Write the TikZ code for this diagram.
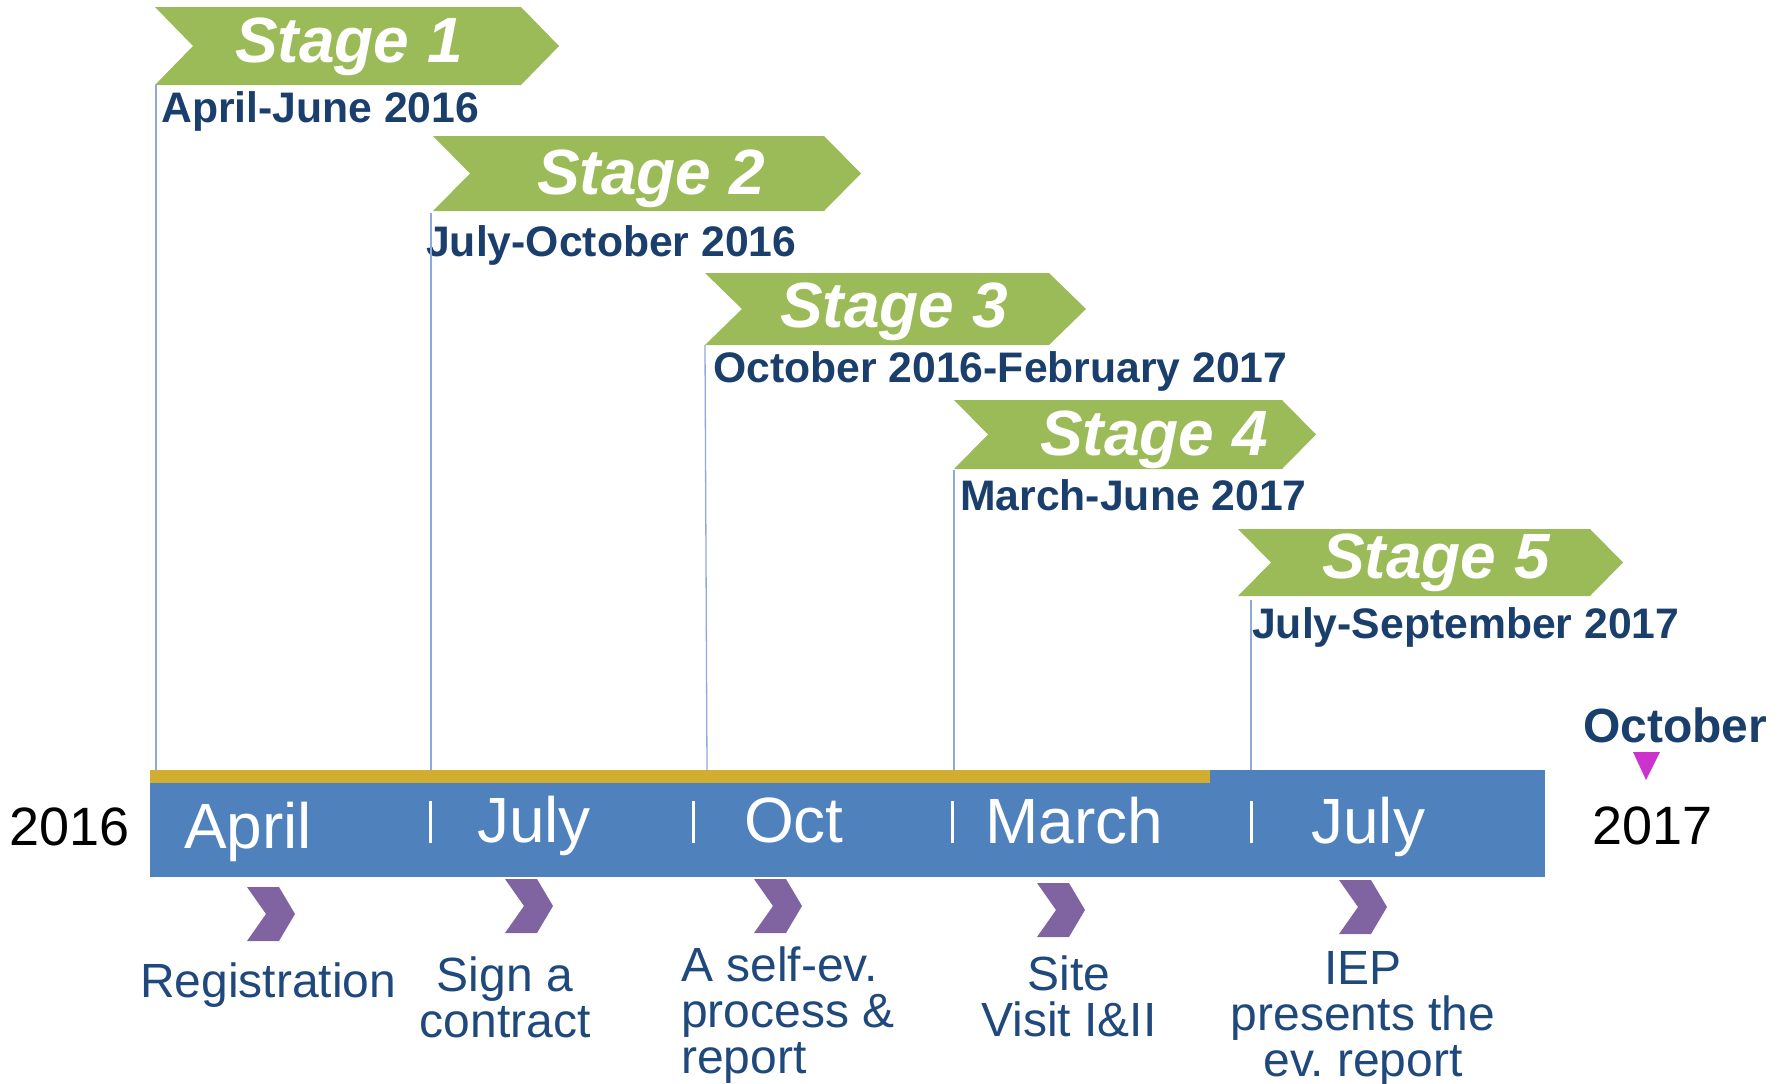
\documentclass[tikz,border=0pt]{standalone}
\usepackage{fontspec}
\setmainfont{Liberation Sans}
\frenchspacing
\definecolor{stagegreen}{HTML}{9BBB59}
\definecolor{barblue}{HTML}{4F81BD}
\definecolor{bargold}{HTML}{D1AE2F}
\definecolor{actpurple}{HTML}{8064A2}
\definecolor{datecol}{HTML}{1B3F6C}
\definecolor{labelcol}{HTML}{1F497D}
\definecolor{linecol}{HTML}{8EAADB}
\definecolor{markmag}{HTML}{CC33CC}
\newcommand{\stagechev}[6]{% name, x0, x1, ytop, ybot, depth
  \fill[stagegreen] (#2,#4) -- (#3,#4) -- ({#3+#6},{(#4+#5)/2}) -- (#3,#5) -- (#2,#5) -- ({#2+#6},{(#4+#5)/2}) -- cycle;
  \coordinate (#1) at (#2,#5);}
\newcommand{\actchev}[2]{% x0, ytop
  \fill[actpurple] (#1,#2) -- ({#1+32},#2) -- ({#1+48},{#2+27}) -- ({#1+32},{#2+54}) -- (#1,{#2+54}) -- ({#1+19},{#2+27}) -- cycle;}
\begin{document}
\begin{tikzpicture}[x=1pt,y=-1pt,
  stagetxt/.style={inner sep=0pt, text=white, font=\fontsize{64}{70}\selectfont\bfseries\itshape},
  datetxt/.style={inner sep=0pt, text=datecol, font=\fontsize{42.7}{46}\selectfont\bfseries},
  monthtxt/.style={inner sep=0pt, text=white, font=\fontsize{64}{70}\selectfont},
  yeartxt/.style={inner sep=0pt, text=black, font=\fontsize{54}{58}\selectfont},
  acttxt/.style={inner sep=0pt, text=labelcol, font=\fontsize{48}{46}\selectfont},
  vline/.style={draw=linecol, line width=1.3pt},
  tickmark/.style={draw=white, line width=3pt}]
\useasboundingbox (0,0) rectangle (1781,1084);

% stage chevrons
\stagechev{c1}{155}{521}{7}{85}{38}
\stagechev{c2}{433}{824}{136}{211}{37}
\stagechev{c3}{705}{1049}{273}{345}{37}
\stagechev{c4}{954}{1282}{400}{469}{34}
\stagechev{c5}{1238}{1590}{529}{596}{33}

\node[stagetxt, anchor=base] (s1) at (349,62) {Stage 1};
\node[stagetxt, anchor=base] (s2) at (651,194) {Stage 2};
\node[stagetxt, anchor=base] (s3) at (894,327) {Stage 3};
\node[stagetxt, anchor=base] (s4) at (1154,455) {Stage 4};
\node[stagetxt, anchor=base] (s5) at (1436,578) {Stage 5};

\node[datetxt, anchor=base west] (d1) at (161,122) {April-June 2016};
\node[datetxt, anchor=base west] (d2) at (426,256) {July-October 2016};
\node[datetxt, anchor=base west] (d3) at (713,382) {October 2016-February 2017};
\node[datetxt, anchor=base west] (d4) at (960,510) {March-June 2017};
\node[datetxt, anchor=base west] (d5) at (1252,638) {July-September 2017};

% bar
\fill[barblue] (150,770) rectangle (1545,877);
\fill[bargold] (150,770) rectangle (1210,783);

% stage lines to bar
\coordinate (t1) at (156,85);   \coordinate (b1) at (156,770);
\coordinate (t2) at (431,213);  \coordinate (b2) at (431,770);
\coordinate (t3) at (705,345);  \coordinate (b3) at (707,770);
\coordinate (t4) at (954,470);  \coordinate (b4) at (954,770);
\coordinate (t5) at (1251,600); \coordinate (b5) at (1251,770);
\draw[vline] (t1) -- (b1);
\draw[vline] (t2) -- (b2);
\draw[vline] (t3) -- (b3);
\draw[vline] (t4) -- (b4);
\draw[vline] (t5) -- (b5);

% ticks in bar
\draw[tickmark] (430,801) -- (430,843);
\draw[tickmark] (693,801) -- (693,843);
\draw[tickmark] (952,801) -- (952,843);
\draw[tickmark] (1251,801) -- (1251,843);

\node[monthtxt, anchor=base west] (m1) at (184,848) {April};
\node[monthtxt, anchor=base west] (m2) at (477,842) {July};
\node[monthtxt, anchor=base west] (m3) at (744,842) {Oct};
\node[monthtxt, anchor=base west] (m4) at (985,843) {March};
\node[monthtxt, anchor=base west] (m5) at (1311,843) {July};

\node[yeartxt, anchor=base west] (y16) at (9,845) {2016};
\node[yeartxt, anchor=base west] (y17) at (1592,844) {2017};
\node[inner sep=0pt, text=datecol, font=\fontsize{48}{50}\selectfont\bfseries, anchor=base west] (oct) at (1583,742) {October};
\fill[markmag] (1633,752) -- (1660,752) -- (1646,780) -- cycle;

% activity chevrons
\actchev{247}{887}
\actchev{505}{879}
\actchev{754}{879}
\actchev{1037}{883}
\actchev{1339}{880}

\node[acttxt, anchor=base west] (a1) at (140,997) {Registration};
\node[acttxt, anchor=north, align=center] (a2) at (505,957) {Sign a\\contract};
\node[acttxt, anchor=north west, align=left] (a3) at (681,947) {A self-ev.\\process \&\\report};
\node[acttxt, anchor=north, align=center] (a4) at (1069,956) {Site\\Visit I\&II};
\node[acttxt, anchor=north, align=center] (a5) at (1363,951) {IEP\\presents the\\ev. report};
\end{tikzpicture}
\end{document}
